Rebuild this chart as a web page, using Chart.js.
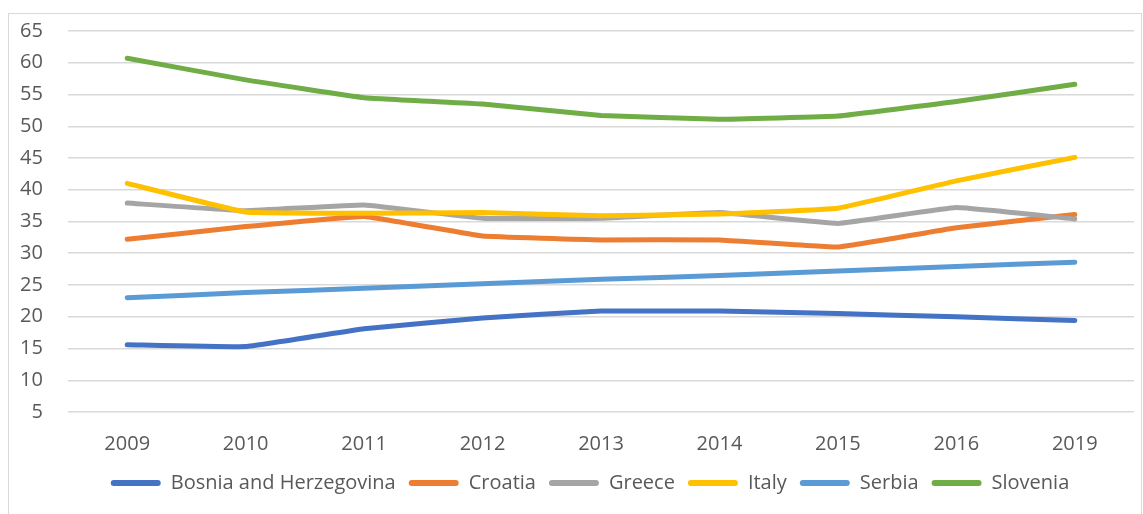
<!DOCTYPE html>
<html>
<head>
<meta charset="utf-8">
<script src="https://cdn.jsdelivr.net/npm/chart.js@4"></script>
<style>
  html, body { margin: 0; padding: 0; background: #fff; }
  #wrap { position: absolute; left: 0; top: 0; width: 1143px; height: 514px; }
  #frame { position: absolute; left: 8px; top: 13px; width: 1132px; height: 520px; border: 1px solid #d9d9d9; pointer-events: none; }
</style>
</head>
<body>
<div id="wrap"><canvas id="c" width="1143" height="514"></canvas></div>
<div id="frame"></div>
<script>
const categories = ["2009", "2010", "2011", "2012", "2013", "2014", "2015", "2016", "2019"];
const bosnia   = [15.6, 15.3, 18.1, 19.8, 20.9, 20.9, 20.5, 20.0, 19.4];
const croatia  = [32.2, 34.2, 35.8, 32.7, 32.1, 32.1, 31.0, 34.0, 36.1];
const greece   = [37.9, 36.7, 37.6, 35.5, 35.5, 36.4, 34.7, 37.2, 35.4];
const italy    = [41.0, 36.5, 36.3, 36.4, 35.9, 36.2, 37.1, 41.4, 45.1];
const serbia   = [23.0, 23.8, 24.5, 25.2, 25.9, 26.5, 27.2, 27.9, 28.6];
const slovenia = [60.7, 57.3, 54.5, 53.5, 51.7, 51.1, 51.6, 53.9, 56.6];
const seriesNames = ["Bosnia and Herzegovina", "Croatia", "Greece", "Italy", "Serbia", "Slovenia"];
const seriesData = [bosnia, croatia, greece, italy, serbia, slovenia];
const seriesColors = ["#4472C4", "#ED7D31", "#A5A5A5", "#FFC000", "#5B9BD5", "#70AD47"];
const yMin = 5, yMax = 65, yStep = 5;

const FONT = "'Open Sans'";
const datasets = seriesNames.map((n, i) => ({
  label: n,
  data: seriesData[i],
  borderColor: seriesColors[i],
  backgroundColor: seriesColors[i],
  borderWidth: 5,
  borderCapStyle: 'round',
  borderJoinStyle: 'round',
  pointRadius: 0,
  pointHoverRadius: 0,
  tension: 0.08,
  fill: false,
  order: seriesNames.length - i
}));

new Chart(document.getElementById('c'), {
  type: 'line',
  data: { labels: categories, datasets },
  options: {
    responsive: false,
    animation: false,
    layout: { padding: { top: 31, right: 9, bottom: 11, left: 46 } },
    plugins: {
      tooltip: { enabled: false },
      legend: {
        position: 'bottom',
        labels: {
          sort: (a, b) => a.datasetIndex - b.datasetIndex,
          boxWidth: 50,
          boxHeight: 6,
          useBorderRadius: true,
          borderRadius: 3,
          color: '#595959',
          font: { family: FONT, size: 20 },
          padding: 13,
          generateLabels: (chart) => chart.data.datasets.map((d, i) => ({
            text: d.label,
            fillStyle: d.borderColor,
            strokeStyle: d.borderColor,
            lineWidth: 0,
            borderRadius: 3,
            datasetIndex: i,
            hidden: false,
            fontColor: '#595959'
          }))
        }
      }
    },
    scales: {
      x: {
        offset: true,
        grid: { display: false, drawTicks: false },
        border: { display: false },
        ticks: { color: '#595959', font: { family: FONT, size: 20 }, padding: 20, maxRotation: 0 },
        afterFit: (s) => { s.height = 48; }
      },
      y: {
        min: yMin, max: yMax,
        grid: { color: '#d9d9d9', lineWidth: 1.5, drawTicks: false },
        border: { display: false },
        ticks: { stepSize: yStep, color: '#595959', font: { family: FONT, size: 20 },
                 mirror: true, crossAlign: 'far', padding: -48 },
        afterFit: (s) => { s.width = 22; }
      }
    }
  }
});
</script>
</body>
</html>
